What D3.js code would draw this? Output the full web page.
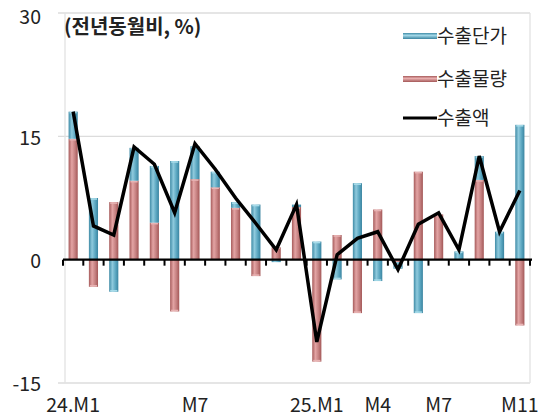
<!DOCTYPE html>
<html>
<head>
<meta charset="utf-8">
<script src="https://cdn.jsdelivr.net/npm/d3@7"></script>
<style>
  body { margin: 0; background: #fff; }
  svg { display: block; font-family: "Noto Sans CJK KR", "Noto Sans", sans-serif; }
</style>
</head>
<body>
<svg width="541" height="418"></svg>
<script>
// Months 24.M1 ~ 25.M11
const months = ["24.M1","24.M2","24.M3","24.M4","24.M5","24.M6","24.M7","24.M8","24.M9","24.M10","24.M11","24.M12",
                "25.M1","25.M2","25.M3","25.M4","25.M5","25.M6","25.M7","25.M8","25.M9","25.M10","25.M11"];
const tickLabels = ["24.M1","","","","","","M7","","","","","","25.M1","","","M4","","","M7","","","","M11"];

// 수출물량 (volume), 수출단가 (unit price), 수출액 (exports), % y/y
const volume = [14.7, -3.3, 7.0, 9.6, 4.5, -6.3, 9.8, 8.8, 6.3, -2.0, 1.5, 6.4,
                -12.4, 3.0, -6.5, 6.1, -0.3, 10.7, 5.5, 0.0, 9.7, 0.0, -8.0];
const price  = [3.3, 7.5, -3.9, 4.0, 6.9, 12.0, 4.0, 1.9, 0.7, 6.7, -0.3, 0.3,
                2.2, -2.4, 9.3, -2.6, -0.8, -6.5, 0.0, 1.0, 2.9, 3.4, 16.4];
const exportsAmt = [18.0, 4.1, 3.0, 13.7, 11.6, 5.7, 14.1, 11.0, 7.5, 4.4, 1.2, 6.7,
                    -10.0, 0.6, 2.6, 3.4, -1.2, 4.3, 5.7, 1.2, 12.6, 3.4, 8.4];
const yTicks = [-15, 0, 15, 30];

const svg = d3.select("svg");
const margin = { top: 13, right: 11, bottom: 35, left: 63 };
const width = 541, height = 418;

const x = d3.scaleBand()
    .domain(months)
    .range([margin.left, width - margin.right])
    .paddingInner(0.55)
    .paddingOuter(0.275);

const y = d3.scaleLinear()
    .domain([-15, 30])
    .range([height - margin.bottom, margin.top]);

// gradients for the cylinder look
const defs = svg.append("defs");
function grad(id, stops, vertical) {
    const g = defs.append("linearGradient").attr("id", id)
        .attr("x1", 0).attr("y1", 0)
        .attr("x2", vertical ? 0 : 1).attr("y2", vertical ? 1 : 0);
    stops.forEach(s => g.append("stop").attr("offset", s[0]).attr("stop-color", s[1]));
}
grad("gBlue", [[0, "#3f8ba6"], [0.35, "#8fcadd"], [0.7, "#5aa6c0"], [1, "#3a84a0"]]);
grad("gRed", [[0, "#a65b5b"], [0.35, "#e3a4a4"], [0.7, "#c47f7f"], [1, "#a35757"]]);
grad("gBlueV", [[0, "#3f8ba6"], [0.4, "#a3d8e8"], [1, "#3a84a0"]], true);
grad("gRedV", [[0, "#a65b5b"], [0.4, "#eab0b0"], [1, "#a35757"]], true);

// gridlines
svg.append("g")
    .selectAll("line")
    .data(yTicks.filter(d => d !== 0))
    .join("line")
    .attr("x1", margin.left - 5)
    .attr("x2", width - margin.right)
    .attr("y1", d => y(d))
    .attr("y2", d => y(d))
    .attr("stroke", "#dcdcdc")
    .attr("stroke-width", 1.3);

// plot border left/right
svg.append("line")
    .attr("x1", margin.left + 2).attr("x2", margin.left + 2)
    .attr("y1", y(30)).attr("y2", y(-15))
    .attr("stroke", "#e2e2e2").attr("stroke-width", 1.3);
svg.append("line")
    .attr("x1", width - margin.right).attr("x2", width - margin.right)
    .attr("y1", y(30)).attr("y2", y(-15))
    .attr("stroke", "#e2e2e2").attr("stroke-width", 1.3);

// y labels
svg.append("g")
    .selectAll("text")
    .data(yTicks)
    .join("text")
    .attr("x", 41)
    .attr("y", d => d === 30 ? 24 : y(d))
    .attr("dy", d => d === 30 ? 0 : "0.42em")
    .attr("text-anchor", "end")
    .attr("font-size", 19.5)
    .attr("fill", "#222")
    .text(d => d);

// stacked bars
const table = months.map((m, i) => ({ month: m, vol: volume[i], price: price[i] }));
const series = d3.stack()
    .keys(["vol", "price"])
    .offset(d3.stackOffsetDiverging)(table);

const fills = { vol: "url(#gRed)", price: "url(#gBlue)" };
const caps = { vol: "#e8b4b4", price: "#a8dcea" };

series.forEach(s => {
    const g = svg.append("g");
    g.selectAll("rect")
        .data(s.filter(d => d[1] !== d[0]))
        .join("rect")
        .attr("x", d => x(d.data.month))
        .attr("y", d => y(Math.max(d[0], d[1])))
        .attr("width", x.bandwidth())
        .attr("height", d => Math.abs(y(d[0]) - y(d[1])))
        .attr("fill", fills[s.key]);
    // light end cap
    g.selectAll("line")
        .data(s.filter(d => Math.abs(d[1] - d[0]) > 0.4))
        .join("line")
        .attr("x1", d => x(d.data.month) + 1)
        .attr("x2", d => x(d.data.month) + x.bandwidth() - 1)
        .attr("y1", d => d[1] > 0 ? y(d[1]) + 1 : y(d[0]) - 1)
        .attr("y2", d => d[1] > 0 ? y(d[1]) + 1 : y(d[0]) - 1)
        .attr("stroke", caps[s.key])
        .attr("stroke-width", 1.5);
});

// zero axis with boundary ticks
svg.append("line")
    .attr("x1", margin.left).attr("x2", width - margin.right + 2)
    .attr("y1", y(0)).attr("y2", y(0))
    .attr("stroke", "#000").attr("stroke-width", 2.2);
svg.append("g")
    .selectAll("line")
    .data(d3.range(months.length + 1))
    .join("line")
    .attr("x1", i => margin.left + i * x.step())
    .attr("x2", i => margin.left + i * x.step())
    .attr("y1", y(0))
    .attr("y2", y(0) + 6)
    .attr("stroke", "#000")
    .attr("stroke-width", 2);

// exports line
const line = d3.line()
    .x((d, i) => x(months[i]) + x.bandwidth() / 2)
    .y(d => y(d));
svg.append("path")
    .datum(exportsAmt)
    .attr("fill", "none")
    .attr("stroke", "#000")
    .attr("stroke-width", 3.5)
    .attr("stroke-linejoin", "miter")
    .attr("d", line);

// x-axis labels
const xAxis = svg.append("g")
    .attr("transform", `translate(0, ${height})`)
    .call(d3.axisBottom(x).tickSize(0).tickFormat((d, i) => tickLabels[i]));
xAxis.select(".domain").remove();
xAxis.selectAll("text")
    .attr("y", -6)
    .attr("dy", 0)
    .attr("font-size", 19.5)
    .attr("font-family", "\"Noto Sans CJK KR\", sans-serif")
    .attr("fill", "#222");

// unit title
svg.append("text")
    .attr("x", 64)
    .attr("y", 34)
    .attr("font-size", 20)
    .attr("font-weight", "bold")
    .attr("fill", "#222")
    .text("(전년동월비, %)");

// legend
const legend = svg.append("g");
const legendItems = [
    { label: "수출단가", type: "bar", fill: "url(#gBlueV)", y: 36 },
    { label: "수출물량", type: "bar", fill: "url(#gRedV)", y: 79 },
    { label: "수출액", type: "line", y: 118 }
];
legendItems.forEach(d => {
    if (d.type === "bar") {
        legend.append("rect")
            .attr("x", 403).attr("y", d.y - 3)
            .attr("width", 34).attr("height", 6)
            .attr("fill", d.fill);
    } else {
        legend.append("line")
            .attr("x1", 403).attr("x2", 437)
            .attr("y1", d.y).attr("y2", d.y)
            .attr("stroke", "#000").attr("stroke-width", 3);
    }
    legend.append("text")
        .attr("x", 437)
        .attr("y", d.y)
        .attr("dy", "0.35em")
        .attr("font-size", 19)
        .attr("fill", "#222")
        .text(d.label);
});
</script>
</body>
</html>
